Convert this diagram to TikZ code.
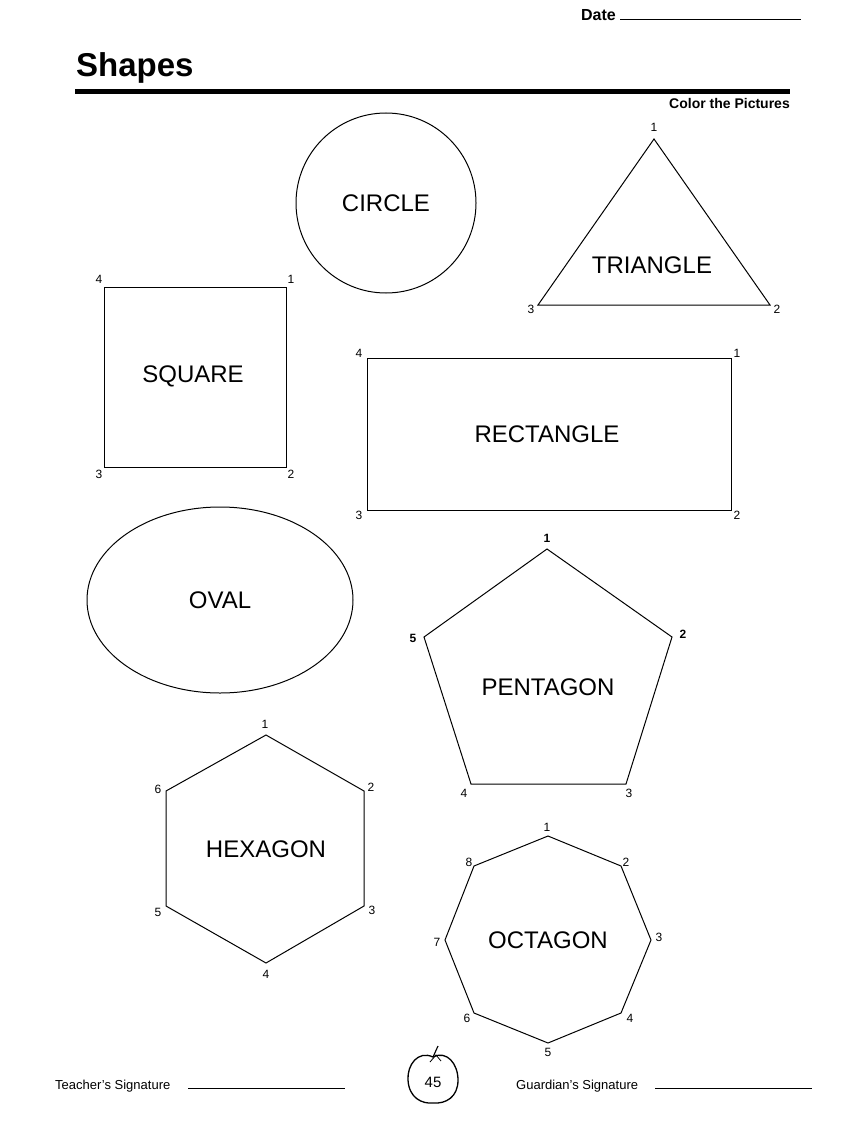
\documentclass[tikz,border=0pt]{standalone}
\usepackage{fontspec}
\setmainfont{Liberation Sans}
\begin{document}
\begin{tikzpicture}[x=1pt,y=-1pt,
 shp/.style={draw,line width=1pt},
 lbl/.style={font=\fontsize{24}{28}\selectfont,inner sep=0pt},
 num/.style={font=\fontsize{12}{14}\selectfont,inner sep=0pt},
 bnum/.style={font=\fontsize{12}{14}\selectfont\bfseries,inner sep=0pt},
 foot/.style={font=\fontsize{13}{15}\selectfont,inner sep=0pt}]
\useasboundingbox (0,0) rectangle (859,1145);
% header
\node[anchor=base east,font=\fontsize{16}{18}\selectfont\bfseries,inner sep=0pt] (date) at (616,21) {Date};
\draw[line width=0.6pt] (620,19) -- (801,19);
\node[anchor=base west,font=\fontsize{33}{38}\selectfont\bfseries,inner sep=0pt] (title) at (76,77) {Shapes};
\draw[line width=5pt] (75,92) -- (790,92);
\node[anchor=base east,font=\fontsize{14}{16}\selectfont\bfseries,inner sep=0pt] (ctp) at (790,109) {Color the Pictures};
% circle
\draw[shp] (386,203) circle (90);
\node[lbl] (circ) at (386,203) {CIRCLE};
% triangle
\draw[shp] (654,139) -- (770,305) -- (538,305) -- cycle;
\node[lbl] (tri) at (652,265) {TRIANGLE};
\node[num] (t1) at (654,127) {1};
\node[num] (t2) at (777,309) {2};
\node[num] (t3) at (531,309) {3};
% square
\draw[shp] (104,287) rectangle (286,467);
\node[lbl] (sq) at (193,376) {SQUARE};
\node[num] (s4) at (99,279) {4};
\node[num] (s1) at (291,279) {1};
\node[num] (s3) at (99,474) {3};
\node[num] (s2) at (291,474) {2};
% rectangle
\draw[shp] (367,358) rectangle (731,510);
\node[lbl] (rect) at (547,434) {RECTANGLE};
\node[num] (r4) at (359,353) {4};
\node[num] (r1) at (737,353) {1};
\node[num] (r3) at (359,515) {3};
\node[num] (r2) at (737,515) {2};
% oval
\draw[shp] (220,600) ellipse (133 and 93);
\node[lbl] (oval) at (220,600) {OVAL};
% pentagon
\draw[shp] (547,549) -- (672,637) -- (626,784) -- (471,784) -- (424,637) -- cycle;
\node[lbl] (pent) at (548,687) {PENTAGON};
\node[bnum] (p1) at (547,538) {1};
\node[bnum] (p2) at (683,634) {2};
\node[num] (p3) at (629,793) {3};
\node[num] (p4) at (464,793) {4};
\node[bnum] (p5) at (413,638) {5};
% hexagon
\draw[shp] (266,735) -- (364,791) -- (364,906) -- (266,963) -- (166,906) -- (166,791) -- cycle;
\node[lbl] (hex) at (266,849) {HEXAGON};
\node[num] (h1) at (265,724) {1};
\node[num] (h2) at (371,787) {2};
\node[num] (h3) at (372,910) {3};
\node[num] (h4) at (266,974) {4};
\node[num] (h5) at (158,912) {5};
\node[num] (h6) at (158,789) {6};
% octagon
\draw[shp] (548,836) -- (621,866) -- (651,940) -- (621,1013) -- (548,1043) -- (474,1013) -- (445,940) -- (474,866) -- cycle;
\node[lbl] (oct) at (548,940) {OCTAGON};
\node[num] (o1) at (547,827) {1};
\node[num] (o2) at (626,862) {2};
\node[num] (o3) at (659,937) {3};
\node[num] (o4) at (630,1018) {4};
\node[num] (o5) at (548,1052) {5};
\node[num] (o6) at (467,1018) {6};
\node[num] (o7) at (437,942) {7};
\node[num] (o8) at (469,862) {8};
% footer
\node[foot,anchor=base west] (teach) at (55,1089) {Teacher’s Signature};
\draw[line width=0.6pt] (188,1088) -- (345,1088);
\node[foot,anchor=base west] (guard) at (516,1089) {Guardian’s Signature};
\draw[line width=0.6pt] (655,1088) -- (812,1088);
\draw[line width=1.3pt] (433,1057) .. controls (418,1050) and (407,1065) .. (408,1080) .. controls (409,1098) and (422,1104) .. (433,1103) .. controls (446,1104) and (458,1097) .. (458,1080) .. controls (458,1064) and (447,1050) .. (433,1057);
\draw[line width=1.1pt] (433,1057) -- (438,1046);
\draw[line width=0.8pt] (430,1062) -- (436,1055) -- (441,1061);
\node[font=\fontsize{15}{17}\selectfont,inner sep=0pt] (pg) at (433,1082) {45};
\end{tikzpicture}
\end{document}
